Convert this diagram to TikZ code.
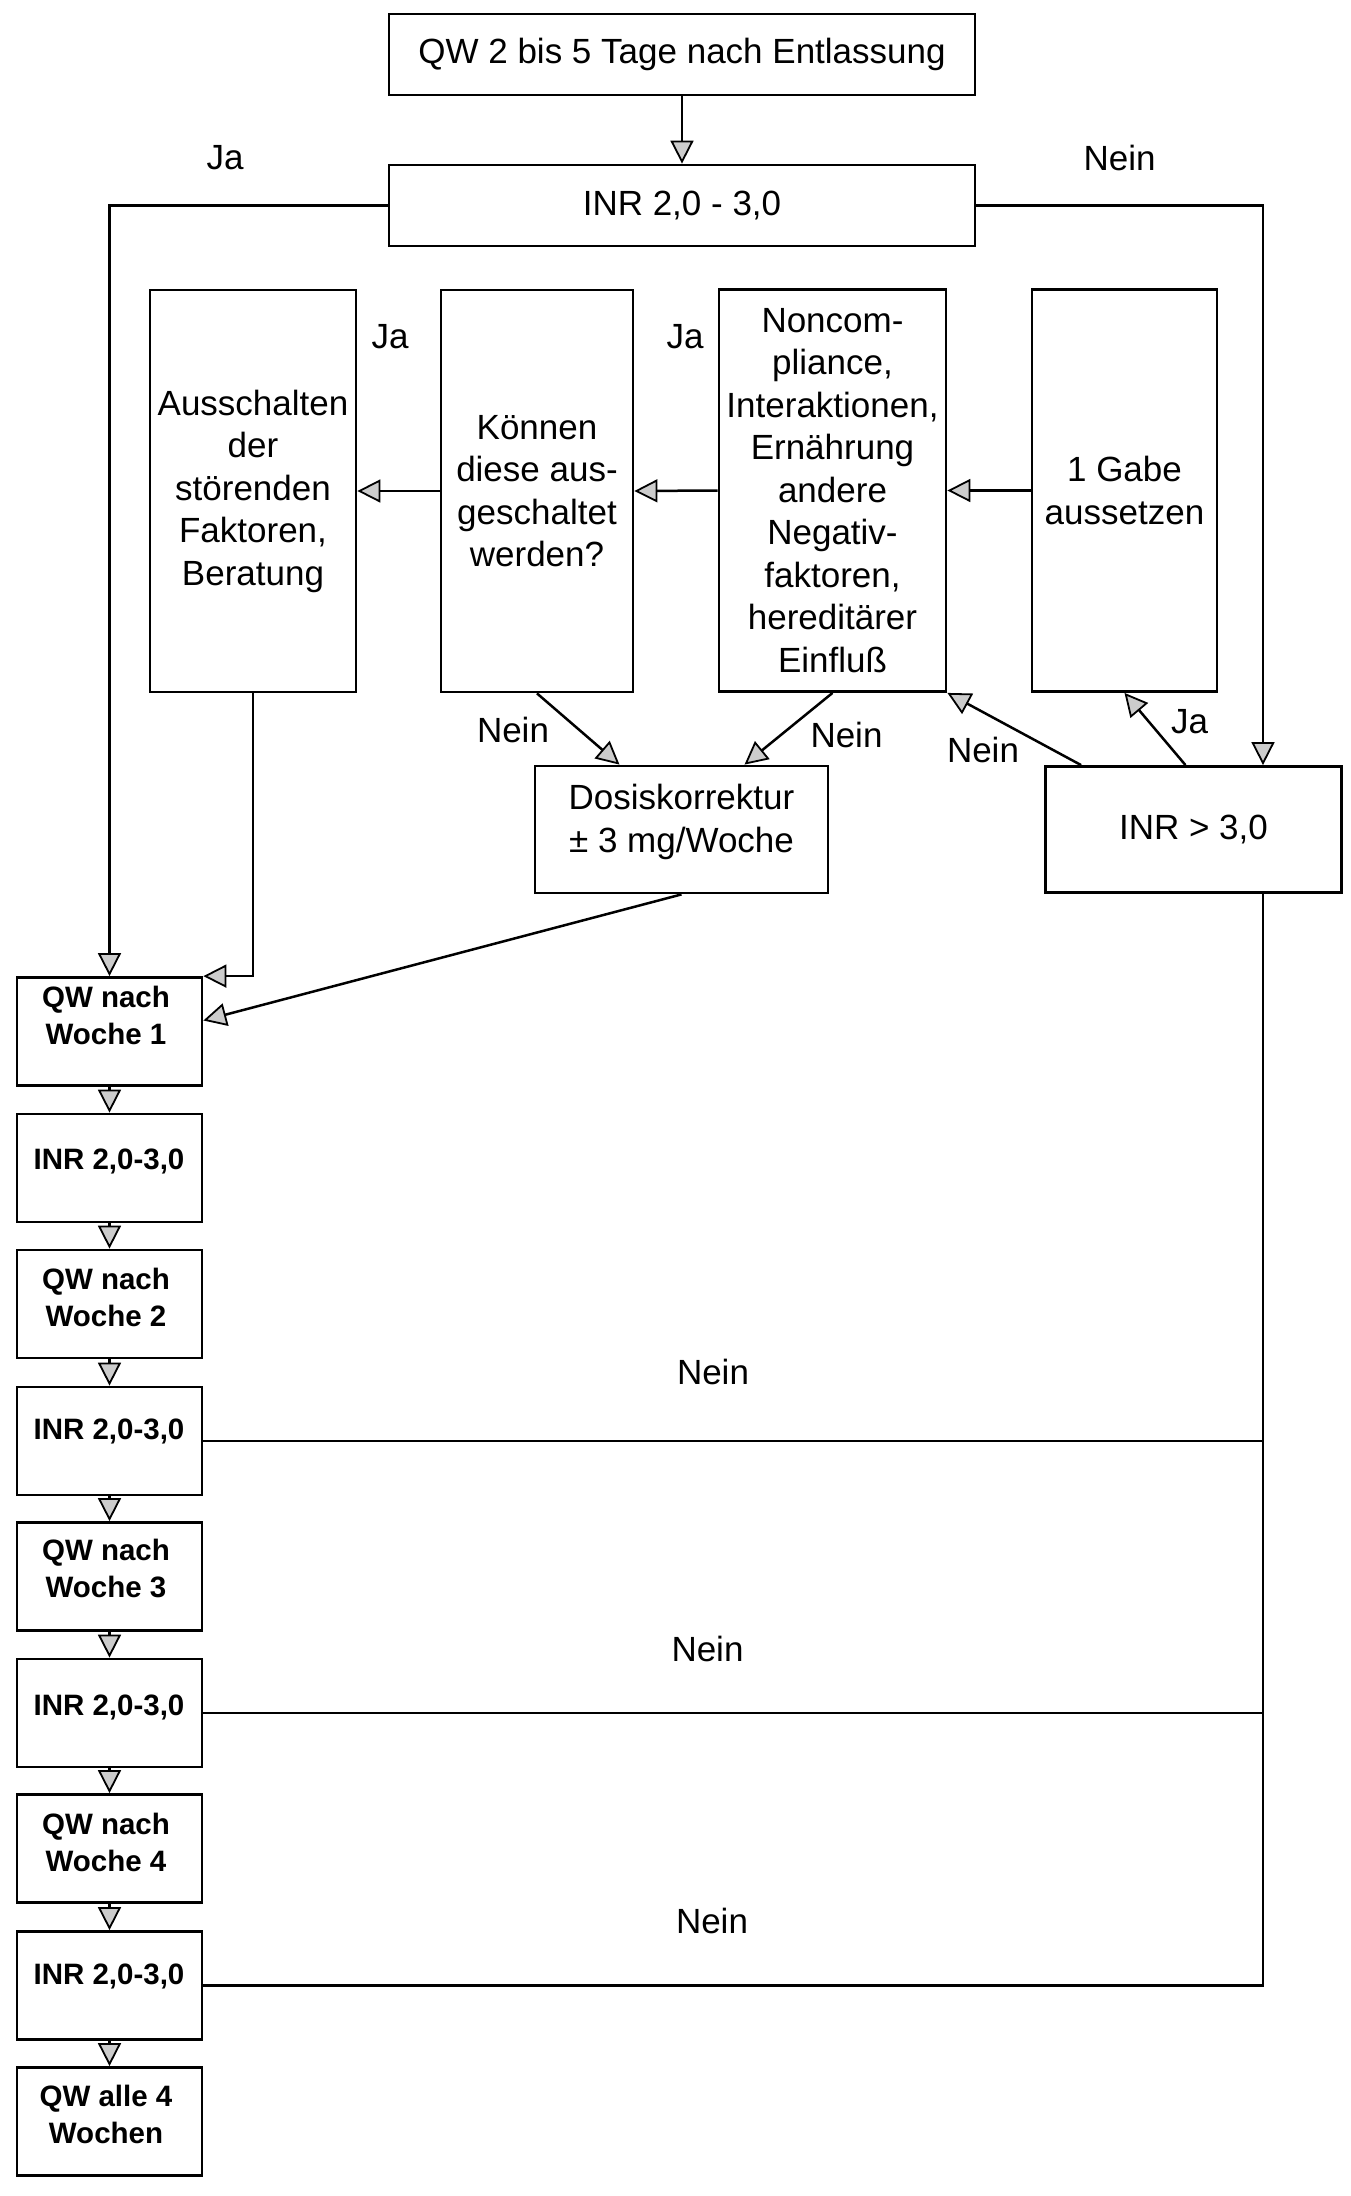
\documentclass[tikz,border=0pt]{standalone}
\usepackage{fontspec}
\setmainfont{Liberation Sans}
\usetikzlibrary{arrows.meta,calc}
\newcommand\myBody{\fontsize{35}{42.5}\selectfont}
\newcommand\myChain{\fontsize{29.5}{37}\selectfont\bfseries}
\begin{document}
\begin{tikzpicture}[x=1pt,y=-1pt,
  box/.style={draw, line width=2.8pt, rectangle, inner sep=0pt, align=center, font=\myBody},
  cbox/.style={draw, line width=2.8pt, rectangle, minimum width=185pt, minimum height=108pt, inner sep=0pt},
  ctxt/.style={align=center, font=\myChain, inner sep=0pt},
  lbl/.style={font=\myBody, inner sep=0pt},
  conn/.style={line width=2.5pt, -{Triangle[length=23pt,width=23pt,fill=gray!40,line width=1.8pt]}},
  plainline/.style={line width=2.5pt}]
\useasboundingbox (0,0) rectangle (1350,2196);
\fill[white] (0,0) rectangle (1350,2196);

% upper part
\node[box, minimum width=586pt, minimum height=81pt] (top) at (682,54.5) {QW 2 bis 5 Tage nach Entlassung};
\node[box, minimum width=586pt, minimum height=81pt] (inr) at (682,205.5) {INR 2,0 - 3,0};
\node[box, minimum width=206pt, minimum height=402pt] (aus) at (253,491) {Ausschalten\\der\\störenden\\Faktoren,\\Beratung};
\node[box, minimum width=192pt, minimum height=402pt] (kon) at (537,491) {Können\\diese aus-\\geschaltet\\werden?};
\node[box, minimum width=227pt, minimum height=402pt] (non) at (832.5,490.5) {Noncom-\\pliance,\\Interaktionen,\\Ernährung\\andere\\Negativ-\\faktoren,\\hereditärer\\Einfluß};
\node[box, minimum width=185pt, minimum height=402pt] (gabe) at (1124.5,490.5) {1 Gabe\\aussetzen};
\node[box, minimum width=293pt, minimum height=127pt] (dos) at (681.5,829.5) {};
\node[lbl, align=center] (dost) at (681.5,822) {Dosiskorrektur\\± 3 mg/Woche};
\node[box, minimum width=296pt, minimum height=126pt] (inrgt) at (1193.5,829.5) {INR > 3,0};

% chain
\node[cbox] (qw1) at (109.5,1031.5) {};
\node[cbox] (i1) at (109.5,1168) {};
\node[cbox] (qw2) at (109.5,1304) {};
\node[cbox] (i2) at (109.5,1441) {};
\node[cbox] (qw3) at (109.5,1576.5) {};
\node[cbox] (i3) at (109.5,1713) {};
\node[cbox] (qw4) at (109.5,1848.5) {};
\node[cbox] (i4) at (109.5,1985.5) {};
\node[cbox] (qwa) at (109.5,2121.5) {};
\node[ctxt] (qw1t) at (106,1015.5) {QW nach\\Woche 1};
\node[ctxt] (i1t) at (109,1161) {INR 2,0-3,0};
\node[ctxt] (qw2t) at (106,1297) {QW nach\\Woche 2};
\node[ctxt] (i2t) at (109,1431) {INR 2,0-3,0};
\node[ctxt] (qw3t) at (106,1568) {QW nach\\Woche 3};
\node[ctxt] (i3t) at (109,1707) {INR 2,0-3,0};
\node[ctxt] (qw4t) at (106,1842.5) {QW nach\\Woche 4};
\node[ctxt] (i4t) at (109,1976.5) {INR 2,0-3,0};
\node[ctxt] (qwat) at (106,2114.5) {QW alle 4\\Wochen};

\coordinate (rx) at (1263,0);

% connectors
\draw[conn] (top.south) -- (inr.north);
\draw[conn] (inr.west) -| (qw1.north);
\draw[conn] (inr.east) -| (inrgt.north -| rx);
\draw[conn] (kon.west) -- (aus.east);
\draw[conn] (non.west) -- (kon.east);
\draw[conn] (gabe.west) -- (non.east);
\draw[conn] ($(inrgt.north)+(-8,0)$) -- (gabe.south);
\draw[conn] ($(inrgt.north west)+(37,0)$) -- (non.south east);
\draw[conn] (non.south) -- ($(dos.north)+(63,0)$);
\draw[conn] (kon.south) -- ($(dos.north)+(-62,0)$);
\draw[conn] (aus.south) |- (qw1.north east);
\draw[conn] (dos.south) -- ($(qw1.east)+(0,-11)$);
\draw[conn] (qw1.south) -- (i1.north);
\draw[conn] (i1.south) -- (qw2.north);
\draw[conn] (qw2.south) -- (i2.north);
\draw[conn] (i2.south) -- (qw3.north);
\draw[conn] (qw3.south) -- (i3.north);
\draw[conn] (i3.south) -- (qw4.north);
\draw[conn] (qw4.south) -- (i4.north);
\draw[conn] (i4.south) -- (qwa.north);
\draw[plainline] (inrgt.south -| rx) |- (i4.east);
\draw[plainline] (i2.east) -- (i2.east -| rx);
\draw[plainline] (i3.east) -- (i3.east -| rx);

% labels
\node[lbl] (ja1) at (225,158) {Ja};
\node[lbl] (nein1) at (1119.5,158) {Nein};
\node[lbl] (ja2) at (390,337) {Ja};
\node[lbl] (ja3) at (685,337) {Ja};
\node[lbl] (nein2) at (513,730) {Nein};
\node[lbl] (nein3) at (846.5,734.5) {Nein};
\node[lbl] (nein4) at (983,750) {Nein};
\node[lbl] (ja4) at (1189.5,722) {Ja};
\node[lbl] (nein5) at (713,1372) {Nein};
\node[lbl] (nein6) at (707.5,1649) {Nein};
\node[lbl] (nein7) at (712,1921) {Nein};
\end{tikzpicture}
\end{document}
